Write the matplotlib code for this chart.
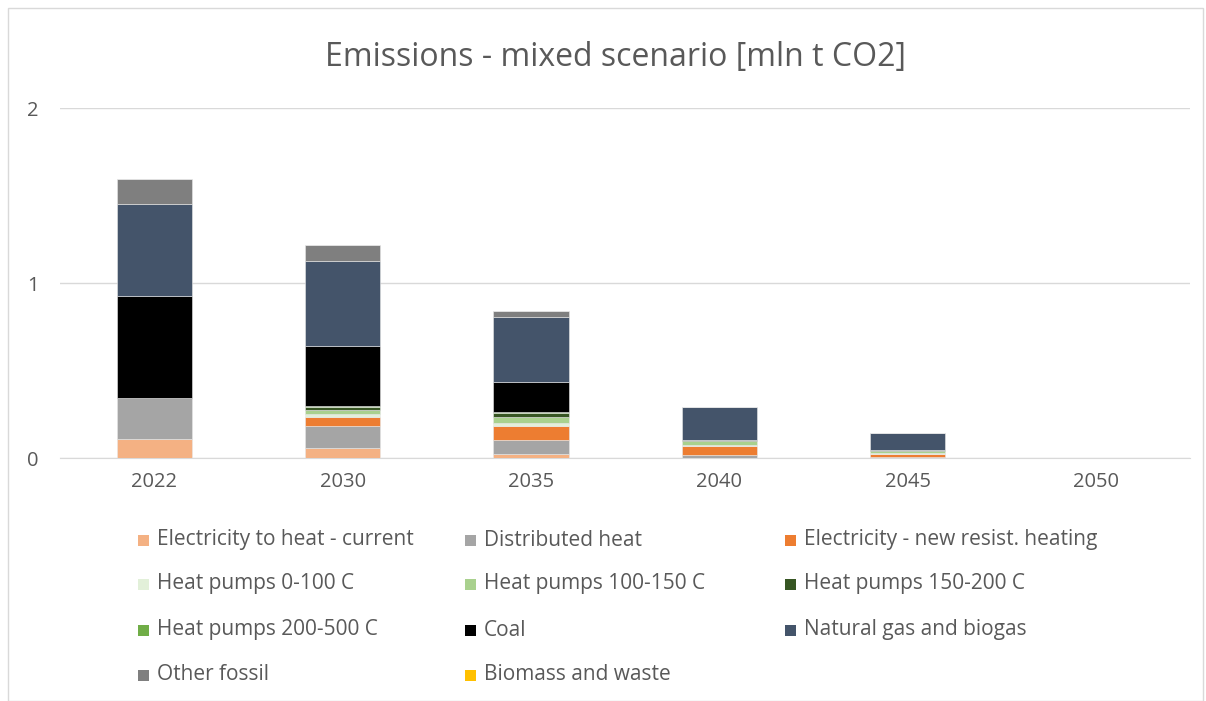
import numpy as np
import matplotlib.pyplot as plt
from matplotlib.patches import Rectangle

plt.rcParams['font.family'] = ['Open Sans', 'DejaVu Sans']

years = ['2022', '2030', '2035', '2040', '2045', '2050']

labels = ['Electricity to heat - current', 'Distributed heat', 'Electricity - new resist. heating',
          'Heat pumps 0-100 C', 'Heat pumps 100-150 C', 'Heat pumps 150-200 C',
          'Heat pumps 200-500 C', 'Coal', 'Natural gas and biogas',
          'Other fossil', 'Biomass and waste']

elec_current = [0.110, 0.055, 0.025, 0.000, 0.000, 0.0]
dist_heat    = [0.235, 0.128, 0.078, 0.020, 0.008, 0.0]
elec_new     = [0.000, 0.050, 0.082, 0.050, 0.015, 0.0]
hp_0_100     = [0.000, 0.020, 0.014, 0.005, 0.003, 0.0]
hp_100_150   = [0.000, 0.020, 0.034, 0.022, 0.012, 0.0]
hp_150_200   = [0.000, 0.018, 0.022, 0.008, 0.008, 0.0]
hp_200_500   = [0.000, 0.008, 0.010, 0.000, 0.000, 0.0]
coal         = [0.580, 0.341, 0.167, 0.000, 0.000, 0.0]
gas          = [0.525, 0.486, 0.375, 0.185, 0.095, 0.0]
other_fossil = [0.145, 0.091, 0.033, 0.000, 0.000, 0.0]
biomass      = [0.000, 0.000, 0.000, 0.000, 0.000, 0.0]

series = [elec_current, dist_heat, elec_new, hp_0_100, hp_100_150, hp_150_200,
          hp_200_500, coal, gas, other_fossil, biomass]
colors = ['#F4B183', '#A5A5A5', '#ED7D31', '#E2F0D9', '#A9D18E', '#375623',
          '#70AD47', '#000000', '#44546A', '#7F7F7F', '#FFC000']

fig = plt.figure(figsize=(12.06, 7.01), dpi=100)
ax = fig.add_axes([0.0498, 0.3466, 0.9372, 0.4993])

x = np.arange(len(years))
bottom = np.zeros(len(years))
for vals, c in zip(series, colors):
    ax.bar(x, vals, 0.4, bottom=bottom, color=c, edgecolor='#e8e8e8', linewidth=0.4, zorder=3)
    bottom += np.array(vals)

ax.set_xlim(-0.5, 5.5)
ax.set_ylim(0, 2)
ax.set_yticks([0, 1, 2])
ax.set_xticks(x)
ax.set_xticklabels(years)
ax.tick_params(length=0, labelsize=14.5, colors='#595959')
ax.tick_params(axis='x', pad=10)
ax.tick_params(axis='y', pad=24)
for lab in ax.get_yticklabels():
    lab.set_horizontalalignment('left')
for s in ['top', 'right', 'left']:
    ax.spines[s].set_visible(False)
ax.spines['bottom'].set_color('#d9d9d9')
ax.grid(axis='y', color='#d9d9d9', linewidth=1, zorder=0)
ax.set_axisbelow(True)

fig.text(0.510, 0.918, 'Emissions - mixed scenario [mln t CO2]', ha='center', va='center',
         fontsize=23, color='#595959')

# legend drawn row by row like the original
col_x = [138, 465, 785]
row_y = [540, 584, 630, 675]
W, H = 1206, 701
for i, (lab, c) in enumerate(zip(labels, colors)):
    cx = col_x[i % 3]
    cy = row_y[i // 3]
    fig.patches.append(Rectangle((cx / W, 1 - (cy + 6) / H), 11 / W, 11 / H,
                                 transform=fig.transFigure, facecolor=c, edgecolor='none'))
    fig.text((cx + 19) / W, 1 - cy / H, lab, ha='left', va='center', fontsize=15, color='#595959')

fig.patches.append(Rectangle((8 / W, 0.0), 1195 / W, 1 - 8 / H, transform=fig.transFigure,
                             facecolor='none', edgecolor='#d9d9d9', linewidth=1))

fig.savefig('out.png', dpi=100)
